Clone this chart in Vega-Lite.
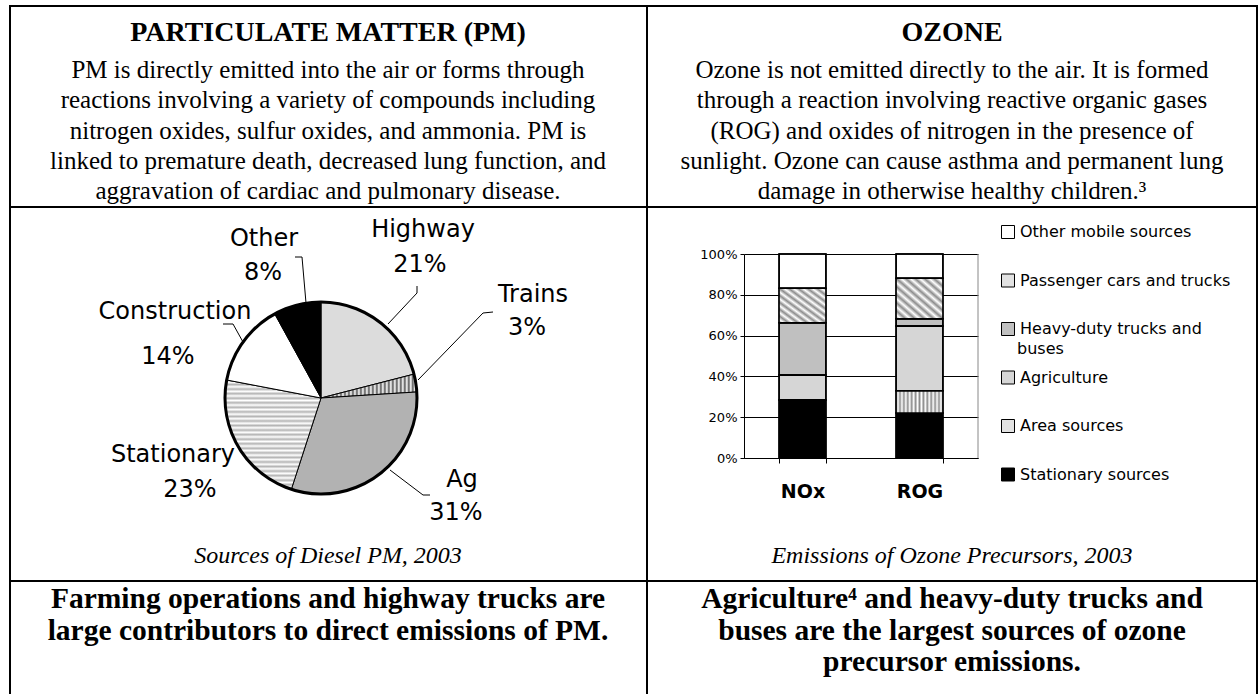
{
  "$schema": "https://vega.github.io/schema/vega-lite/v6.json",
  "width": 1260,
  "height": 694,
  "autosize": "none",
  "padding": 0,
  "background": "white",
  "config": {
    "view": {"stroke": null},
    "text": {"font": "DejaVu Sans", "fontSize": 24, "align": "center", "baseline": "middle", "color": "#000"},
    "rule": {"color": "#000", "strokeWidth": 1}
  },
  "data": {"values": [{}]},
  "layer": [
    {
      "data": {"values": [
        {"source": "Highway", "pct": 21, "rank": 1},
        {"source": "Trains", "pct": 3, "rank": 2},
        {"source": "Ag", "pct": 31, "rank": 3},
        {"source": "Stationary", "pct": 23, "rank": 4},
        {"source": "Construction", "pct": 14, "rank": 5},
        {"source": "Other", "pct": 8, "rank": 6}
      ]},
      "mark": {"type": "arc", "radius": 96, "stroke": "#000", "strokeWidth": 1},
      "encoding": {
        "theta": {"field": "pct", "type": "quantitative", "stack": true},
        "order": {"field": "rank", "type": "quantitative"},
        "x": {"value": 321},
        "y": {"value": 398},
        "fill": {
          "condition": [
            {"test": "datum.source === 'Highway'", "value": "#dcdcdc"},
            {"test": "datum.source === 'Trains'", "value": {"gradient": "linear", "x1": 0, "y1": 0, "x2": 1, "y2": 0, "stops": [
              {"offset": 0, "color": "#555"}, {"offset": 0.0208, "color": "#fff"}, {"offset": 0.0417, "color": "#555"}, {"offset": 0.0625, "color": "#fff"},
              {"offset": 0.0833, "color": "#555"}, {"offset": 0.1042, "color": "#fff"}, {"offset": 0.125, "color": "#555"}, {"offset": 0.1458, "color": "#fff"},
              {"offset": 0.1667, "color": "#555"}, {"offset": 0.1875, "color": "#fff"}, {"offset": 0.2083, "color": "#555"}, {"offset": 0.2292, "color": "#fff"},
              {"offset": 0.25, "color": "#555"}, {"offset": 0.2708, "color": "#fff"}, {"offset": 0.2917, "color": "#555"}, {"offset": 0.3125, "color": "#fff"},
              {"offset": 0.3333, "color": "#555"}, {"offset": 0.3542, "color": "#fff"}, {"offset": 0.375, "color": "#555"}, {"offset": 0.3958, "color": "#fff"},
              {"offset": 0.4167, "color": "#555"}, {"offset": 0.4375, "color": "#fff"}, {"offset": 0.4583, "color": "#555"}, {"offset": 0.4792, "color": "#fff"},
              {"offset": 0.5, "color": "#555"}, {"offset": 0.5208, "color": "#fff"}, {"offset": 0.5417, "color": "#555"}, {"offset": 0.5625, "color": "#fff"},
              {"offset": 0.5833, "color": "#555"}, {"offset": 0.6042, "color": "#fff"}, {"offset": 0.625, "color": "#555"}, {"offset": 0.6458, "color": "#fff"},
              {"offset": 0.6667, "color": "#555"}, {"offset": 0.6875, "color": "#fff"}, {"offset": 0.7083, "color": "#555"}, {"offset": 0.7292, "color": "#fff"},
              {"offset": 0.75, "color": "#555"}, {"offset": 0.7708, "color": "#fff"}, {"offset": 0.7917, "color": "#555"}, {"offset": 0.8125, "color": "#fff"},
              {"offset": 0.8333, "color": "#555"}, {"offset": 0.8542, "color": "#fff"}, {"offset": 0.875, "color": "#555"}, {"offset": 0.8958, "color": "#fff"},
              {"offset": 0.9167, "color": "#555"}, {"offset": 0.9375, "color": "#fff"}, {"offset": 0.9583, "color": "#555"}, {"offset": 0.9792, "color": "#fff"},
              {"offset": 1, "color": "#555"}
            ]}},
            {"test": "datum.source === 'Ag'", "value": "#b2b2b2"},
            {"test": "datum.source === 'Stationary'", "value": {"gradient": "linear", "x1": 0, "y1": 0, "x2": 0, "y2": 1, "stops": [
              {"offset": 0, "color": "#b4b4b4"}, {"offset": 0.0208, "color": "#fff"}, {"offset": 0.0417, "color": "#b4b4b4"}, {"offset": 0.0625, "color": "#fff"},
              {"offset": 0.0833, "color": "#b4b4b4"}, {"offset": 0.1042, "color": "#fff"}, {"offset": 0.125, "color": "#b4b4b4"}, {"offset": 0.1458, "color": "#fff"},
              {"offset": 0.1667, "color": "#b4b4b4"}, {"offset": 0.1875, "color": "#fff"}, {"offset": 0.2083, "color": "#b4b4b4"}, {"offset": 0.2292, "color": "#fff"},
              {"offset": 0.25, "color": "#b4b4b4"}, {"offset": 0.2708, "color": "#fff"}, {"offset": 0.2917, "color": "#b4b4b4"}, {"offset": 0.3125, "color": "#fff"},
              {"offset": 0.3333, "color": "#b4b4b4"}, {"offset": 0.3542, "color": "#fff"}, {"offset": 0.375, "color": "#b4b4b4"}, {"offset": 0.3958, "color": "#fff"},
              {"offset": 0.4167, "color": "#b4b4b4"}, {"offset": 0.4375, "color": "#fff"}, {"offset": 0.4583, "color": "#b4b4b4"}, {"offset": 0.4792, "color": "#fff"},
              {"offset": 0.5, "color": "#b4b4b4"}, {"offset": 0.5208, "color": "#fff"}, {"offset": 0.5417, "color": "#b4b4b4"}, {"offset": 0.5625, "color": "#fff"},
              {"offset": 0.5833, "color": "#b4b4b4"}, {"offset": 0.6042, "color": "#fff"}, {"offset": 0.625, "color": "#b4b4b4"}, {"offset": 0.6458, "color": "#fff"},
              {"offset": 0.6667, "color": "#b4b4b4"}, {"offset": 0.6875, "color": "#fff"}, {"offset": 0.7083, "color": "#b4b4b4"}, {"offset": 0.7292, "color": "#fff"},
              {"offset": 0.75, "color": "#b4b4b4"}, {"offset": 0.7708, "color": "#fff"}, {"offset": 0.7917, "color": "#b4b4b4"}, {"offset": 0.8125, "color": "#fff"},
              {"offset": 0.8333, "color": "#b4b4b4"}, {"offset": 0.8542, "color": "#fff"}, {"offset": 0.875, "color": "#b4b4b4"}, {"offset": 0.8958, "color": "#fff"},
              {"offset": 0.9167, "color": "#b4b4b4"}, {"offset": 0.9375, "color": "#fff"}, {"offset": 0.9583, "color": "#b4b4b4"}, {"offset": 0.9792, "color": "#fff"},
              {"offset": 1, "color": "#b4b4b4"}
            ]}},
            {"test": "datum.source === 'Other'", "value": "#000"}
          ],
          "value": "#fff"
        }
      }
    },
    {
      "mark": {"type": "arc", "radius": 96, "theta": 0, "theta2": 6.2832, "fillOpacity": 0, "stroke": "#000", "strokeWidth": 3},
      "encoding": {"x": {"value": 321}, "y": {"value": 398}}
    },
    {"mark": "rule", "encoding": {"x": {"value": 295}, "x2": {"value": 302}, "y": {"value": 257}, "y2": {"value": 257}}},
    {"mark": "rule", "encoding": {"x": {"value": 302}, "x2": {"value": 306}, "y": {"value": 257}, "y2": {"value": 303}}},
    {"mark": "rule", "encoding": {"x": {"value": 223}, "x2": {"value": 233}, "y": {"value": 324}, "y2": {"value": 324}}},
    {"mark": "rule", "encoding": {"x": {"value": 233}, "x2": {"value": 243}, "y": {"value": 324}, "y2": {"value": 342}}},
    {"mark": "rule", "encoding": {"x": {"value": 417}, "x2": {"value": 417}, "y": {"value": 286}, "y2": {"value": 293}}},
    {"mark": "rule", "encoding": {"x": {"value": 417}, "x2": {"value": 388}, "y": {"value": 293}, "y2": {"value": 324}}},
    {"mark": "rule", "encoding": {"x": {"value": 493}, "x2": {"value": 483}, "y": {"value": 312}, "y2": {"value": 313}}},
    {"mark": "rule", "encoding": {"x": {"value": 483}, "x2": {"value": 418}, "y": {"value": 313}, "y2": {"value": 380}}},
    {"mark": "rule", "encoding": {"x": {"value": 430}, "x2": {"value": 423}, "y": {"value": 495}, "y2": {"value": 495}}},
    {"mark": "rule", "encoding": {"x": {"value": 423}, "x2": {"value": 390}, "y": {"value": 495}, "y2": {"value": 470}}},
    {"mark": "text", "encoding": {"x": {"value": 264}, "y": {"value": 239}, "text": {"value": "Other"}}},
    {"mark": "text", "encoding": {"x": {"value": 263}, "y": {"value": 273}, "text": {"value": "8%"}}},
    {"mark": "text", "encoding": {"x": {"value": 423}, "y": {"value": 230}, "text": {"value": "Highway"}}},
    {"mark": "text", "encoding": {"x": {"value": 420}, "y": {"value": 265}, "text": {"value": "21%"}}},
    {"mark": "text", "encoding": {"x": {"value": 533}, "y": {"value": 295}, "text": {"value": "Trains"}}},
    {"mark": "text", "encoding": {"x": {"value": 527}, "y": {"value": 328}, "text": {"value": "3%"}}},
    {"mark": "text", "encoding": {"x": {"value": 175}, "y": {"value": 312}, "text": {"value": "Construction"}}},
    {"mark": "text", "encoding": {"x": {"value": 168}, "y": {"value": 357}, "text": {"value": "14%"}}},
    {"mark": "text", "encoding": {"x": {"value": 173}, "y": {"value": 455}, "text": {"value": "Stationary"}}},
    {"mark": "text", "encoding": {"x": {"value": 190}, "y": {"value": 490}, "text": {"value": "23%"}}},
    {"mark": "text", "encoding": {"x": {"value": 462}, "y": {"value": 480}, "text": {"value": "Ag"}}},
    {"mark": "text", "encoding": {"x": {"value": 456}, "y": {"value": 513}, "text": {"value": "31%"}}},
    {
      "data": {"values": [
        {"pollutant": "NOx", "source": "Stationary sources", "pct": 28.4, "rank": 1},
        {"pollutant": "NOx", "source": "Area sources", "pct": 0, "rank": 2},
        {"pollutant": "NOx", "source": "Agriculture", "pct": 12.3, "rank": 3},
        {"pollutant": "NOx", "source": "Heavy-duty trucks and buses", "pct": 25.6, "rank": 4},
        {"pollutant": "NOx", "source": "Passenger cars and trucks", "pct": 16.9, "rank": 5},
        {"pollutant": "NOx", "source": "Other mobile sources", "pct": 16.8, "rank": 6},
        {"pollutant": "ROG", "source": "Stationary sources", "pct": 22, "rank": 1},
        {"pollutant": "ROG", "source": "Area sources", "pct": 11, "rank": 2},
        {"pollutant": "ROG", "source": "Agriculture", "pct": 31.7, "rank": 3},
        {"pollutant": "ROG", "source": "Heavy-duty trucks and buses", "pct": 3.6, "rank": 4},
        {"pollutant": "ROG", "source": "Passenger cars and trucks", "pct": 19.8, "rank": 5},
        {"pollutant": "ROG", "source": "Other mobile sources", "pct": 11.9, "rank": 6}
      ]},
      "encoding": {
        "x": {
          "field": "pollutant", "type": "nominal",
          "scale": {"domain": ["NOx", "ROG"], "range": [744, 978], "paddingInner": 0.6, "paddingOuter": 0.3},
          "axis": {"orient": "bottom", "offset": -236, "title": null, "labelAngle": 0, "labelFont": "DejaVu Sans", "labelFontWeight": "bold", "labelFontSize": 19, "labelColor": "#000", "domainColor": "#000", "tickColor": "#000", "tickSize": 5, "labelPadding": 19, "tickBand": "extent", "grid": false}
        },
        "y": {
          "field": "pct", "type": "quantitative", "stack": "zero",
          "scale": {"domain": [0, 100], "range": [458, 254], "nice": false},
          "axis": {"orient": "left", "offset": -744, "title": null, "values": [0, 20, 40, 60, 80, 100], "labelExpr": "datum.value + '%'", "grid": true, "gridColor": "#000", "gridWidth": 1, "domainColor": "#000", "tickColor": "#000", "tickSize": 4, "labelFont": "DejaVu Sans", "labelFontSize": 13, "labelColor": "#000", "labelPadding": 3}
        },
        "order": {"field": "rank", "type": "quantitative"}
      },
      "layer": [
        {
          "mark": {"type": "bar", "stroke": "#000", "strokeWidth": 1.5},
          "encoding": {
            "fill": {
              "field": "source", "type": "nominal",
              "scale": {
                "domain": ["Other mobile sources", "Passenger cars and trucks", "Heavy-duty trucks and buses", "Agriculture", "Area sources", "Stationary sources"],
                "range": ["#ffffff", "#e2e2e2", "#c0c0c0", "#d6d6d6", "#e2e2e2", "#000000"]
              },
              "legend": {"orient": "none", "legendX": 1000, "legendY": 224, "title": null, "symbolType": "square", "symbolSize": 169, "symbolStrokeColor": "#000", "symbolStrokeWidth": 1, "labelFont": "DejaVu Sans", "labelFontSize": 16, "labelColor": "#000", "labelOffset": 4, "rowPadding": 30.5, "padding": 0, "labelLimit": 400, "labelExpr": "datum.label === 'Heavy-duty trucks and buses' ? 'Heavy-duty trucks and' : datum.label"}
            }
          }
        },
        {
          "mark": {"type": "bar", "stroke": "#000", "strokeWidth": 1.5},
          "encoding": {
            "fill": {
              "condition": [
                {"test": "datum.source === 'Passenger cars and trucks'", "value": {"gradient": "linear", "x1": 0, "y1": 1, "x2": 1, "y2": 0, "stops": [
                  {"offset": 0, "color": "#8c8c8c"}, {"offset": 0.05, "color": "#fff"}, {"offset": 0.1, "color": "#8c8c8c"}, {"offset": 0.15, "color": "#fff"},
                  {"offset": 0.2, "color": "#8c8c8c"}, {"offset": 0.25, "color": "#fff"}, {"offset": 0.3, "color": "#8c8c8c"}, {"offset": 0.35, "color": "#fff"},
                  {"offset": 0.4, "color": "#8c8c8c"}, {"offset": 0.45, "color": "#fff"}, {"offset": 0.5, "color": "#8c8c8c"}, {"offset": 0.55, "color": "#fff"},
                  {"offset": 0.6, "color": "#8c8c8c"}, {"offset": 0.65, "color": "#fff"}, {"offset": 0.7, "color": "#8c8c8c"}, {"offset": 0.75, "color": "#fff"},
                  {"offset": 0.8, "color": "#8c8c8c"}, {"offset": 0.85, "color": "#fff"}, {"offset": 0.9, "color": "#8c8c8c"}, {"offset": 0.95, "color": "#fff"},
                  {"offset": 1, "color": "#8c8c8c"}
                ]}},
                {"test": "datum.source === 'Area sources'", "value": {"gradient": "linear", "x1": 0, "y1": 0, "x2": 1, "y2": 0, "stops": [
                  {"offset": 0, "color": "#8c8c8c"}, {"offset": 0.0417, "color": "#fff"}, {"offset": 0.0833, "color": "#8c8c8c"}, {"offset": 0.125, "color": "#fff"},
                  {"offset": 0.1667, "color": "#8c8c8c"}, {"offset": 0.2083, "color": "#fff"}, {"offset": 0.25, "color": "#8c8c8c"}, {"offset": 0.2917, "color": "#fff"},
                  {"offset": 0.3333, "color": "#8c8c8c"}, {"offset": 0.375, "color": "#fff"}, {"offset": 0.4167, "color": "#8c8c8c"}, {"offset": 0.4583, "color": "#fff"},
                  {"offset": 0.5, "color": "#8c8c8c"}, {"offset": 0.5417, "color": "#fff"}, {"offset": 0.5833, "color": "#8c8c8c"}, {"offset": 0.625, "color": "#fff"},
                  {"offset": 0.6667, "color": "#8c8c8c"}, {"offset": 0.7083, "color": "#fff"}, {"offset": 0.75, "color": "#8c8c8c"}, {"offset": 0.7917, "color": "#fff"},
                  {"offset": 0.8333, "color": "#8c8c8c"}, {"offset": 0.875, "color": "#fff"}, {"offset": 0.9167, "color": "#8c8c8c"}, {"offset": 0.9583, "color": "#fff"},
                  {"offset": 1, "color": "#8c8c8c"}
                ]}}
              ],
              "value": "transparent"
            }
          }
        }
      ]
    },
    {"mark": {"type": "rule", "color": "#888"}, "encoding": {"x": {"value": 978}, "x2": {"value": 978}, "y": {"value": 254}, "y2": {"value": 458}}},
    {"mark": {"type": "text", "align": "left", "fontSize": 16}, "encoding": {"x": {"value": 1017}, "y": {"value": 349}, "text": {"value": "buses"}}},
    {"mark": {"type": "rule", "strokeWidth": 2}, "encoding": {"x": {"value": 9}, "x2": {"value": 1258}, "y": {"value": 6}, "y2": {"value": 6}}},
    {"mark": {"type": "rule", "strokeWidth": 2}, "encoding": {"x": {"value": 10}, "x2": {"value": 10}, "y": {"value": 5}, "y2": {"value": 694}}},
    {"mark": {"type": "rule", "strokeWidth": 2}, "encoding": {"x": {"value": 1257}, "x2": {"value": 1257}, "y": {"value": 5}, "y2": {"value": 694}}},
    {"mark": {"type": "rule", "strokeWidth": 2}, "encoding": {"x": {"value": 647}, "x2": {"value": 647}, "y": {"value": 6}, "y2": {"value": 694}}},
    {"mark": {"type": "rule", "strokeWidth": 2}, "encoding": {"x": {"value": 10}, "x2": {"value": 1257}, "y": {"value": 207}, "y2": {"value": 207}}},
    {"mark": {"type": "rule", "strokeWidth": 2}, "encoding": {"x": {"value": 10}, "x2": {"value": 1257}, "y": {"value": 581}, "y2": {"value": 581}}},
    {"mark": {"type": "text", "font": "Liberation Serif", "fontSize": 28, "fontWeight": "bold", "baseline": "alphabetic"}, "encoding": {"x": {"value": 328}, "y": {"value": 41}, "text": {"value": "PARTICULATE MATTER (PM)"}}},
    {"mark": {"type": "text", "font": "Liberation Serif", "fontSize": 28, "fontWeight": "bold", "baseline": "alphabetic"}, "encoding": {"x": {"value": 952}, "y": {"value": 41}, "text": {"value": "OZONE"}}},
    {"mark": {"type": "text", "font": "Liberation Serif", "fontSize": 25, "baseline": "alphabetic", "lineHeight": 30.3}, "encoding": {"x": {"value": 328}, "y": {"value": 78}, "text": {"value": ["PM is directly emitted into the air or forms through", "reactions involving a variety of compounds including", "nitrogen oxides, sulfur oxides, and ammonia. PM is", "linked to premature death, decreased lung function, and", "aggravation of cardiac and pulmonary disease."]}}},
    {"mark": {"type": "text", "font": "Liberation Serif", "fontSize": 25, "baseline": "alphabetic", "lineHeight": 30.3}, "encoding": {"x": {"value": 952}, "y": {"value": 78}, "text": {"value": ["Ozone is not emitted directly to the air. It is formed", "through a reaction involving reactive organic gases", "(ROG) and oxides of nitrogen in the presence of", "sunlight.  Ozone can cause asthma and permanent lung", "damage in otherwise healthy children.³"]}}},
    {"mark": {"type": "text", "font": "Liberation Serif", "fontSize": 24, "fontStyle": "italic", "baseline": "alphabetic"}, "encoding": {"x": {"value": 328}, "y": {"value": 563}, "text": {"value": "Sources of Diesel PM, 2003"}}},
    {"mark": {"type": "text", "font": "Liberation Serif", "fontSize": 24, "fontStyle": "italic", "baseline": "alphabetic"}, "encoding": {"x": {"value": 952}, "y": {"value": 563}, "text": {"value": "Emissions of Ozone Precursors, 2003"}}},
    {"mark": {"type": "text", "font": "Liberation Serif", "fontSize": 29.5, "fontWeight": "bold", "baseline": "alphabetic", "lineHeight": 31.5}, "encoding": {"x": {"value": 328}, "y": {"value": 608}, "text": {"value": ["Farming operations and highway trucks are", "large contributors to direct emissions of PM."]}}},
    {"mark": {"type": "text", "font": "Liberation Serif", "fontSize": 29.5, "fontWeight": "bold", "baseline": "alphabetic", "lineHeight": 31.5}, "encoding": {"x": {"value": 952}, "y": {"value": 608}, "text": {"value": ["Agriculture⁴ and heavy-duty trucks and", "buses are the largest sources of ozone", "precursor emissions."]}}}
  ]
}
